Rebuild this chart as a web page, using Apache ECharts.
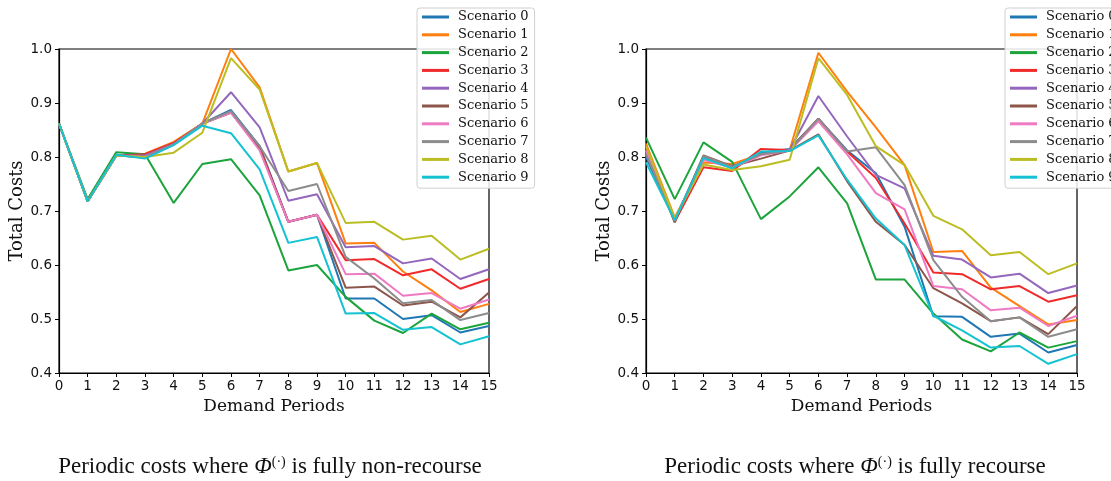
<!DOCTYPE html>
<html>
<head>
<meta charset="utf-8">
<script src="https://cdn.jsdelivr.net/npm/echarts@6/dist/echarts.min.js"></script>
<style>
html,body{margin:0;padding:0;background:#fff;}
#chart{width:1111px;height:481px;}
</style>
</head>
<body>
<div id="chart"></div>
<script>
// ---- Data ----
const periods = [0,1,2,3,4,5,6,7,8,9,10,11,12,13,14,15];
const scenarioNames = ['Scenario 0','Scenario 1','Scenario 2','Scenario 3','Scenario 4','Scenario 5','Scenario 6','Scenario 7','Scenario 8','Scenario 9'];
const yTicks = [0.4,0.5,0.6,0.7,0.8,0.9,1.0];

// Left panel: fully non-recourse
const nonRecourseS0 = [0.862,0.718,0.803,0.800,0.825,0.862,0.887,0.820,0.680,0.693,0.538,0.538,0.500,0.507,0.475,0.487];
const nonRecourseS1 = [0.862,0.718,0.803,0.806,0.828,0.862,1.000,0.929,0.773,0.789,0.640,0.641,0.588,0.553,0.513,0.528];
const nonRecourseS2 = [0.862,0.722,0.809,0.805,0.715,0.787,0.796,0.729,0.590,0.600,0.541,0.497,0.474,0.510,0.481,0.493];
const nonRecourseS3 = [0.862,0.718,0.803,0.805,0.826,0.862,0.883,0.818,0.680,0.693,0.609,0.611,0.581,0.592,0.556,0.574];
const nonRecourseS4 = [0.862,0.718,0.803,0.803,0.824,0.862,0.920,0.855,0.719,0.731,0.633,0.635,0.603,0.612,0.574,0.592];
const nonRecourseS5 = [0.862,0.718,0.803,0.800,0.823,0.862,0.882,0.815,0.680,0.693,0.558,0.560,0.525,0.532,0.503,0.549];
const nonRecourseS6 = [0.862,0.718,0.803,0.800,0.823,0.862,0.882,0.812,0.680,0.693,0.583,0.584,0.543,0.548,0.519,0.536];
const nonRecourseS7 = [0.862,0.718,0.803,0.800,0.823,0.862,0.885,0.820,0.737,0.750,0.615,0.575,0.529,0.535,0.498,0.511];
const nonRecourseS8 = [0.862,0.718,0.803,0.800,0.808,0.845,0.983,0.925,0.773,0.789,0.678,0.680,0.647,0.654,0.610,0.630];
const nonRecourseS9 = [0.862,0.718,0.804,0.797,0.822,0.858,0.844,0.777,0.641,0.652,0.510,0.511,0.480,0.485,0.453,0.468];

// Right panel: fully recourse
const recourseS0 = [0.800,0.683,0.800,0.780,0.808,0.815,0.871,0.812,0.770,0.671,0.505,0.504,0.467,0.473,0.438,0.452];
const recourseS1 = [0.825,0.688,0.790,0.787,0.805,0.813,0.993,0.921,0.855,0.785,0.624,0.626,0.558,0.524,0.490,0.498];
const recourseS2 = [0.836,0.722,0.827,0.791,0.685,0.727,0.781,0.714,0.573,0.573,0.510,0.462,0.440,0.475,0.447,0.459];
const recourseS3 = [0.815,0.680,0.781,0.774,0.815,0.813,0.871,0.810,0.761,0.677,0.586,0.583,0.555,0.561,0.532,0.544];
const recourseS4 = [0.808,0.683,0.800,0.782,0.805,0.813,0.913,0.838,0.767,0.742,0.617,0.610,0.577,0.584,0.548,0.562];
const recourseS5 = [0.810,0.679,0.803,0.783,0.797,0.812,0.842,0.755,0.680,0.637,0.557,0.529,0.496,0.503,0.472,0.524];
const recourseS6 = [0.812,0.684,0.795,0.780,0.803,0.812,0.866,0.805,0.733,0.703,0.561,0.555,0.516,0.521,0.487,0.506];
const recourseS7 = [0.805,0.682,0.802,0.782,0.805,0.812,0.871,0.810,0.818,0.748,0.609,0.541,0.496,0.503,0.467,0.481];
const recourseS8 = [0.820,0.686,0.786,0.776,0.783,0.795,0.983,0.915,0.820,0.785,0.691,0.666,0.618,0.624,0.583,0.603];
const recourseS9 = [0.790,0.683,0.798,0.779,0.810,0.811,0.840,0.758,0.686,0.637,0.506,0.479,0.447,0.450,0.417,0.435];

const nonRecourse = [nonRecourseS0,nonRecourseS1,nonRecourseS2,nonRecourseS3,nonRecourseS4,nonRecourseS5,nonRecourseS6,nonRecourseS7,nonRecourseS8,nonRecourseS9];
const recourse = [recourseS0,recourseS1,recourseS2,recourseS3,recourseS4,recourseS5,recourseS6,recourseS7,recourseS8,recourseS9];

const colors = ['#1f77b4','#ff7f0e','#1ca43c','#f02a2a','#9467bd','#8c564b','#ef7ac4','#8c8c8c','#bcbd22','#14c2d2'];

// ---- Chart ----
const chart = echarts.init(document.getElementById('chart'), null, {renderer:'canvas'});

const tickFont = {fontFamily:'DejaVu Sans', fontSize:13.5, color:'#111'};

function xAx(gi){
  return {
    type:'value', gridIndex:gi, min:0, max:15, interval:1,
    axisLine:{show:true, onZero:false, lineStyle:{color:'#000', width:1.2}},
    axisTick:{show:true, length:4, lineStyle:{color:'#000'}},
    axisLabel:Object.assign({margin:6}, tickFont),
    splitLine:{show:false},
    name:'Demand Periods', nameLocation:'middle', nameGap:25,
    nameTextStyle:{fontFamily:'DejaVu Serif', fontSize:17, color:'#111'}
  };
}
function yAx(gi){
  return {
    type:'value', gridIndex:gi, min:0.4, max:1.0, interval:0.1,
    axisLine:{show:true, lineStyle:{color:'#000', width:1.2}},
    axisTick:{show:true, length:4, lineStyle:{color:'#000'}},
    axisLabel:Object.assign({margin:7, formatter:v=>v.toFixed(1)}, tickFont),
    splitLine:{show:false},
    name:'Total Costs', nameLocation:'middle', nameGap:32, nameRotate:90,
    nameTextStyle:{fontFamily:'DejaVu Serif', fontSize:18, color:'#111'}
  };
}
function legend(left){
  return {
    show:true, orient:'vertical', left:left, top:8,
    data:scenarioNames, icon:'rect', itemWidth:27, itemHeight:3, itemGap:3.8,
    padding:[2,6,4,5], borderColor:'#d0d0d0', borderWidth:1, borderRadius:3,
    backgroundColor:'rgba(255,255,255,0.85)',
    textStyle:{fontFamily:'DejaVu Serif', fontSize:13, color:'#111', lineHeight:14, padding:[0,0,0,4]},
    selectedMode:false
  };
}

const series = [];
[nonRecourse, recourse].forEach((panel, gi) => {
  panel.forEach((vals, si) => {
    series.push({
      type:'line', name:scenarioNames[si], xAxisIndex:gi, yAxisIndex:gi,
      data:periods.map((p,i)=>[p, vals[i]]),
      symbol:'none', smooth:false, animation:false,
      lineStyle:{color:colors[si], width:2},
      itemStyle:{color:colors[si]}
    });
  });
});

const capRich = {
  phi:{fontFamily:'Liberation Serif', fontSize:23, fontStyle:'italic', fill:'#111', color:'#111'},
  sup:{fontFamily:'Liberation Serif', fontSize:14, verticalAlign:'top', fill:'#111', color:'#111'},
  t:{fontFamily:'Liberation Serif', fontSize:23, fill:'#111', color:'#111'}
};

chart.setOption({
  animation:false,
  color:colors,
  grid:[
    {left:59, top:49, width:430, height:324, show:true, borderColor:'#000', borderWidth:1.2, backgroundColor:'transparent'},
    {left:646, top:49, width:431, height:324, show:true, borderColor:'#000', borderWidth:1.2, backgroundColor:'transparent'}
  ],
  xAxis:[xAx(0), xAx(1)],
  yAxis:[yAx(0), yAx(1)],
  legend:[legend(417), legend(1005)],
  series:series,
  graphic:[
    {type:'text', x:270, y:467, style:{
      text:'{t|Periodic costs where }{phi|Φ}{sup|(·)}{t| is fully non-recourse}',
      rich:capRich, align:'center', verticalAlign:'middle',
      fontFamily:'Liberation Serif', fontSize:23, fill:'#111'}},
    {type:'text', x:855, y:467, style:{
      text:'{t|Periodic costs where }{phi|Φ}{sup|(·)}{t| is fully recourse}',
      rich:capRich, align:'center', verticalAlign:'middle',
      fontFamily:'Liberation Serif', fontSize:23, fill:'#111'}}
  ]
});
</script>
</body>
</html>
